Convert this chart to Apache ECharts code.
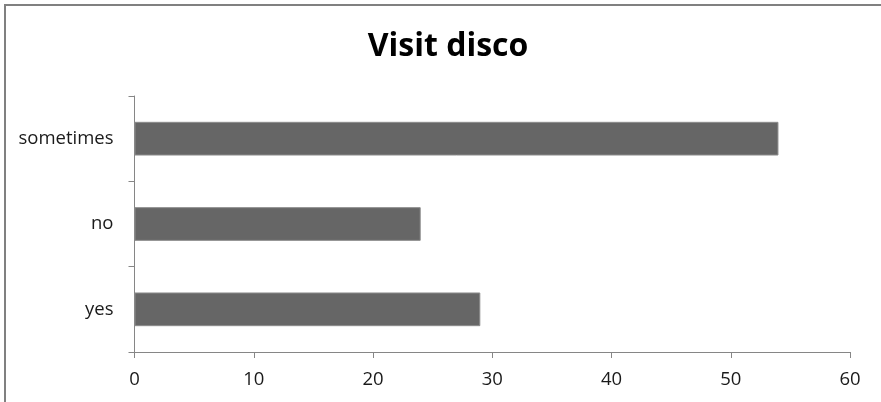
<!DOCTYPE html>
<html>
<head>
<meta charset="utf-8">
<script src="https://cdn.jsdelivr.net/npm/echarts@6/dist/echarts.min.js"></script>
<style>
  html, body { margin: 0; padding: 0; background: #fff; }
  #chart { width: 881px; height: 402px; }
</style>
</head>
<body>
<div id="chart"></div>
<script>
// Answers to "Visit disco"
const categories = ['yes', 'no', 'sometimes'];
const counts = [29, 24, 54];
const xTicks = [0, 10, 20, 30, 40, 50, 60];

const axisGray = '#868686';
const labelFont = { fontFamily: '"Open Sans", sans-serif', fontSize: 18.5, color: '#1a1a1a' };

const chart = echarts.init(document.getElementById('chart'), null, { renderer: 'canvas' });
chart.setOption({
  animation: false,
  backgroundColor: '#ffffff',
  title: {
    text: 'Visit disco',
    left: 443,
    textAlign: 'center',
    top: 26,
    textStyle: {
      fontFamily: '"Open Sans", sans-serif',
      fontWeight: 'bold',
      fontSize: 32,
      color: '#000'
    }
  },
  graphic: [
    // chart frame: top and left edges
    { type: 'line', shape: { x1: 4, y1: 5, x2: 881, y2: 5 }, style: { stroke: '#808080', lineWidth: 2 } },
    { type: 'line', shape: { x1: 5, y1: 4, x2: 5, y2: 402 }, style: { stroke: '#808080', lineWidth: 2 } }
  ],
  grid: { left: 134.5, right: 31, top: 96, bottom: 50, containLabel: false },
  xAxis: {
    type: 'value',
    min: xTicks[0],
    max: xTicks[xTicks.length - 1],
    interval: xTicks[1] - xTicks[0],
    axisLine: { show: true, lineStyle: { color: axisGray, width: 1 } },
    axisTick: { show: true, length: 6, lineStyle: { color: axisGray } },
    splitLine: { show: false },
    axisLabel: Object.assign({ margin: 18 }, labelFont)
  },
  yAxis: {
    type: 'category',
    data: categories,
    axisLine: { show: true, lineStyle: { color: axisGray, width: 1 } },
    axisTick: { show: true, length: 6, alignWithLabel: false, lineStyle: { color: axisGray } },
    splitLine: { show: false },
    axisLabel: Object.assign({ margin: 21 }, labelFont)
  },
  series: [{
    type: 'bar',
    data: counts,
    barWidth: '39.5%',
    itemStyle: { color: '#666666', borderColor: '#8c8c8c', borderWidth: 1 }
  }]
});
</script>
</body>
</html>
